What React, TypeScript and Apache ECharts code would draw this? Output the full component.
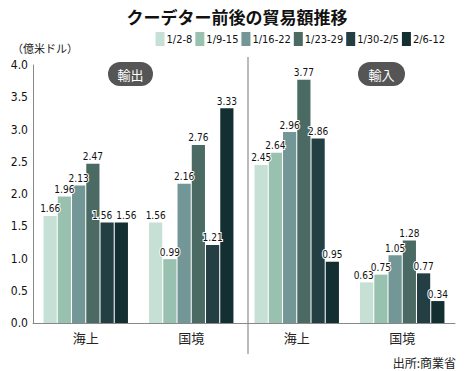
import React, { useEffect, useRef } from "react";
import * as echarts from "echarts";

const categories = ["海上", "国境", "海上", "国境"];
const seriesNames = ["1/2-8", "1/9-15", "1/16-22", "1/23-29", "1/30-2/5", "2/6-12"];
const colors = ["#c6e0d6", "#98c2af", "#739696", "#4a6a63", "#233f43", "#142f31"];
// values per series: [輸出 海上, 輸出 国境, 輸入 海上, 輸入 国境]
const s1 = [1.66, 1.56, 2.45, 0.63];
const s2 = [1.96, 0.99, 2.64, 0.75];
const s3 = [2.13, 2.16, 2.96, 1.05];
const s4 = [2.47, 2.76, 3.77, 1.28];
const s5 = [1.56, 1.21, 2.86, 0.77];
const s6 = [1.56, 3.33, 0.95, 0.34];
const allSeries = [s1, s2, s3, s4, s5, s6];
const yTicks = [0, 0.5, 1, 1.5, 2, 2.5, 3, 3.5, 4];

const NARROW = "'Liberation Sans Narrow', 'DejaVu Sans Condensed', 'Roboto', sans-serif";
const CJK = "'Noto Sans CJK JP', 'Noto Sans', sans-serif";

// label nudges for crowded labels: [series index, category index, dx, dy]
const labelNudges: [number, number, number, number][] = [
  [4, 0, -5, 0],
  [5, 0, 5, 0],
  [0, 3, -3, 0],
];

export default function App() {
  const ref = useRef<HTMLDivElement>(null);
  useEffect(() => {
    if (!ref.current) return;
    const chart = echarts.init(ref.current, null, { renderer: "svg" });
    chart.setOption({
      animation: false,
      backgroundColor: "#fff",
      title: {
        text: "クーデター前後の貿易額推移",
        left: 232,
        textAlign: "center",
        top: 3,
        textStyle: { fontFamily: CJK, fontSize: 17, fontWeight: "bold", color: "#111" },
      },
      legend: {
        data: seriesNames,
        right: 15,
        top: 27,
        itemWidth: 9,
        itemHeight: 14,
        itemGap: 3,
        icon: "rect",
        textStyle: { fontFamily: NARROW, fontSize: 11, color: "#111", padding: [0, 0, 0, -3] },
      },
      grid: { left: 33, right: 10, top: 65, bottom: 48 },
      xAxis: {
        type: "category",
        data: categories,
        axisLine: { lineStyle: { color: "#888", width: 1 } },
        axisTick: { show: false },
        axisLabel: { fontFamily: CJK, fontSize: 13, color: "#222", margin: 8 },
      },
      yAxis: {
        type: "value",
        min: 0,
        max: 4,
        interval: 0.5,
        axisLine: { show: true, lineStyle: { color: "#888", width: 1 } },
        axisTick: { show: false },
        splitLine: { show: false },
        axisLabel: {
          fontFamily: NARROW,
          fontSize: 12,
          color: "#111",
          margin: 5,
          formatter: (v: number) => (yTicks.includes(v) ? v.toFixed(1) : ""),
        },
      },
      series: allSeries.map((d, i) => ({
        name: seriesNames[i],
        type: "bar",
        data: d,
        barGap: "8%",
        barCategoryGap: "20%",
        itemStyle: { color: colors[i] },
        labelLayout: (p: any) => {
          const n = labelNudges.find((x) => x[0] === p.seriesIndex && x[1] === p.dataIndex);
          return n ? { dx: n[2], dy: n[3], hideOverlap: false } : { hideOverlap: false };
        },
        label: {
          show: true,
          position: "top",
          distance: 2,
          fontFamily: NARROW,
          fontSize: 10,
          color: "#111",
          textBorderColor: "#fff",
          textBorderWidth: 2,
          formatter: (p: any) => Number(p.value).toFixed(2),
        },
      })),
      graphic: [
        { type: "text", left: 12, top: 42, style: { text: "（億米ドル）", font: `11px ${CJK}`, fill: "#222" } },
        { type: "line", shape: { x1: 248, y1: 57, x2: 248, y2: 354 }, style: { stroke: "#bbb", lineWidth: 2 } },
        { type: "rect", shape: { x: 108, y: 62, width: 45, height: 24, r: 12 }, style: { fill: "#555" } },
        { type: "text", x: 130.5, y: 74, style: { text: "輸出", font: `13px ${CJK}`, fill: "#fff", align: "center", verticalAlign: "middle" } },
        { type: "rect", shape: { x: 358, y: 62, width: 47, height: 24, r: 12 }, style: { fill: "#555" } },
        { type: "text", x: 381.5, y: 74, style: { text: "輸入", font: `13px ${CJK}`, fill: "#fff", align: "center", verticalAlign: "middle" } },
        { type: "text", x: 456, y: 362, style: { text: "出所:商業省", font: `12px ${CJK}`, fill: "#222", align: "right", verticalAlign: "middle" } },
      ],
    });
    return () => chart.dispose();
  }, []);
  return <div ref={ref} style={{ width: 465, height: 371, position: "absolute", left: 0, top: 0 }} />;
}
